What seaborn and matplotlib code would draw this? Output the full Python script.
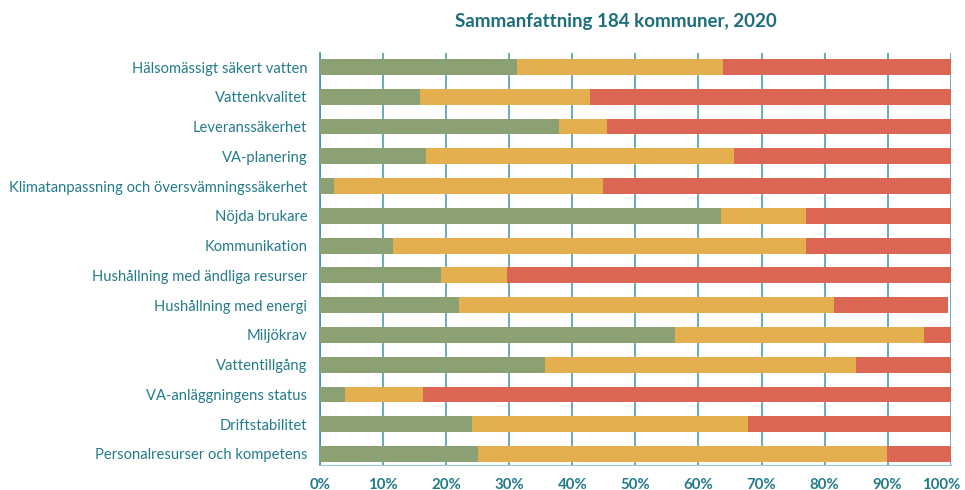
import numpy as np
import pandas as pd
import matplotlib
matplotlib.use("Agg")
import matplotlib.pyplot as plt
import matplotlib.transforms as mtrans
import seaborn as sns

#%% Data

kategorier = [
    "Hälsomässigt säkert vatten",
    "Vattenkvalitet",
    "Leveranssäkerhet",
    "VA-planering",
    "Klimatanpassning och översvämningssäkerhet",
    "Nöjda brukare",
    "Kommunikation",
    "Hushållning med ändliga resurser",
    "Hushållning med energi",
    "Miljökrav",
    "Vattentillgång",
    "VA-anläggningens status",
    "Driftstabilitet",
    "Personalresurser och kompetens",
]
gron = [31.3, 15.8, 37.9, 16.8, 2.2, 63.5, 11.6, 19.2, 22.0, 56.3, 35.6, 3.9, 24.1, 25.1]
gul = [32.6, 27.0, 7.6, 48.8, 42.6, 13.6, 65.5, 10.4, 59.5, 39.5, 49.4, 12.5, 43.8, 64.8]
rod = [36.1, 57.2, 54.5, 34.4, 55.2, 22.9, 22.9, 70.4, 18.1, 4.2, 15.0, 83.6, 32.1, 10.1]
xticks = [0, 10, 20, 30, 40, 50, 60, 70, 80, 90, 100]

df = pd.DataFrame({"kategori": kategorier, "gron": gron, "gul": gul, "rod": rod})
df["gul_end"] = df["gron"] + df["gul"]
df["rod_end"] = df["gul_end"] + df["rod"]

#%% Style

sns.set_style("white")
plt.rcParams["font.family"] = ["Lato", "DejaVu Sans"]

teal = "#237B8A"
gridc = "#3E96A6"

fig = plt.figure(figsize=(9.65, 4.9), dpi=100)
ax = fig.add_axes([0.3316, 0.0504, 0.6536, 0.842])

# stacked bars: draw the running totals from the back
bar_kw = dict(saturation=1, width=0.53, orient="h", ax=ax, zorder=3,
              linewidth=0, edgecolor="none")
sns.barplot(data=df, x="rod_end", y="kategori", color="#DB6653", **bar_kw)
sns.barplot(data=df, x="gul_end", y="kategori", color="#E3AF4F", **bar_kw)
sns.barplot(data=df, x="gron", y="kategori", color="#8BA174", **bar_kw)

ax.set_xlim(0, 100)
ax.set_ylim(13.38, -0.48)
ax.set_xticks(xticks)
ax.set_xticklabels([f"{t}%" for t in xticks])
ax.set_xlabel("")
ax.set_ylabel("")

ax.set_axisbelow(True)
ax.grid(axis="x", color=gridc, linewidth=1.1)
ax.grid(axis="y", visible=False)

for s in ["top", "right"]:
    ax.spines[s].set_visible(False)
ax.spines["left"].set_color(gridc)
ax.spines["left"].set_linewidth(1.2)
ax.spines["bottom"].set_color("#9CCAD2")
ax.spines["bottom"].set_linewidth(0.8)

ax.tick_params(axis="y", length=0, pad=9, labelsize=10.6, labelcolor=teal)
ax.tick_params(axis="x", length=0, pad=9, labelsize=10.8, labelcolor=teal)
for lab in ax.get_xticklabels():
    lab.set_fontweight("bold")
# last label sits a bit left of its gridline so it stays inside the picture
last = ax.get_xticklabels()[-1]
last.set_transform(last.get_transform() + mtrans.ScaledTranslation(-7 / 72, 0, fig.dpi_scale_trans))

fig.text(0.638, 0.957, "Sammanfattning 184 kommuner, 2020", ha="center", va="center",
         fontsize=13.5, fontweight="bold", color="#1D6E7D")

fig.savefig("out.png", dpi=100)
